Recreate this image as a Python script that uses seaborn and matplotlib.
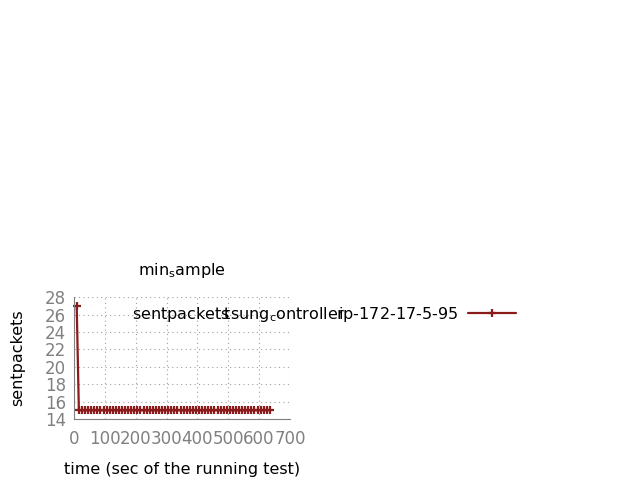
import matplotlib
matplotlib.use("Agg")
import matplotlib.pyplot as plt
import seaborn as sns
import pandas as pd

# data
times = [8, 15, 25, 35, 45, 55, 65, 75, 85, 95,
         105, 115, 125, 135, 145, 155, 165, 175, 185, 195,
         205, 215, 225, 235, 245, 255, 265, 275, 285, 295,
         305, 315, 325, 335, 345, 355, 365, 375, 385, 395,
         405, 415, 425, 435, 445, 455, 465, 475, 485, 495,
         505, 515, 525, 535, 545, 555, 565, 575, 585, 595,
         605, 615, 625, 635]
sentpackets = [27, 15, 15, 15, 15, 15, 15, 15, 15, 15,
               15, 15, 15, 15, 15, 15, 15, 15, 15, 15,
               15, 15, 15, 15, 15, 15, 15, 15, 15, 15,
               15, 15, 15, 15, 15, 15, 15, 15, 15, 15,
               15, 15, 15, 15, 15, 15, 15, 15, 15, 15,
               15, 15, 15, 15, 15, 15, 15, 15, 15, 15,
               15, 15, 15, 15]
x_ticks = [0, 100, 200, 300, 400, 500, 600, 700]
y_ticks = [14, 16, 18, 20, 22, 24, 26, 28]
series_label = r"sentpackets$\!\!$tsung$_{\rm c}$ontroller$\!\!$ip-172-17-5-95"

df = pd.DataFrame({"time": times, "sentpackets": sentpackets})

sns.set_style("white")
plt.rcParams["text.color"] = "black"
plt.rcParams["axes.labelcolor"] = "black"
fig = plt.figure(figsize=(6.4, 4.8), dpi=100)
ax = fig.add_axes([0.116, 0.127, 0.337, 0.254])

sns.lineplot(data=df, x="time", y="sentpackets", ax=ax, color="#8b1a1a",
             marker="+", markersize=6, markeredgewidth=1.6, linewidth=1.6,
             markeredgecolor="#8b1a1a", label=series_label, legend=False,
             clip_on=False)

ax.set_xlim(0, 700)
ax.set_ylim(14, 28)
ax.set_xticks(x_ticks)
ax.set_yticks(y_ticks)
ax.grid(True, linestyle=(0, (1, 3)), color="#a0a0a0", linewidth=0.8)
for s in ["top", "right"]:
    ax.spines[s].set_visible(False)
for s in ["left", "bottom"]:
    ax.spines[s].set_color("#808080")
ax.tick_params(direction="in", colors="#808080", labelsize=12, length=4,
               labelcolor="#808080")
ax.tick_params(axis="x", pad=8)
ax.tick_params(axis="y", pad=6)

ax.set_title(r"min$_{\rm s}$ample", fontsize=11.5, pad=16, color="black")
ax.set_xlabel("time (sec of the running test)", fontsize=11.5, labelpad=10)
ax.set_ylabel("sentpackets", fontsize=11.5, labelpad=14)

fig.legend(loc="center right", bbox_to_anchor=(530 / 640, 1 - 314 / 480),
           frameon=False, markerfirst=False, fontsize=11.5, handlelength=3.0,
           handletextpad=0.6)

plt.savefig("out.png", dpi=100)
